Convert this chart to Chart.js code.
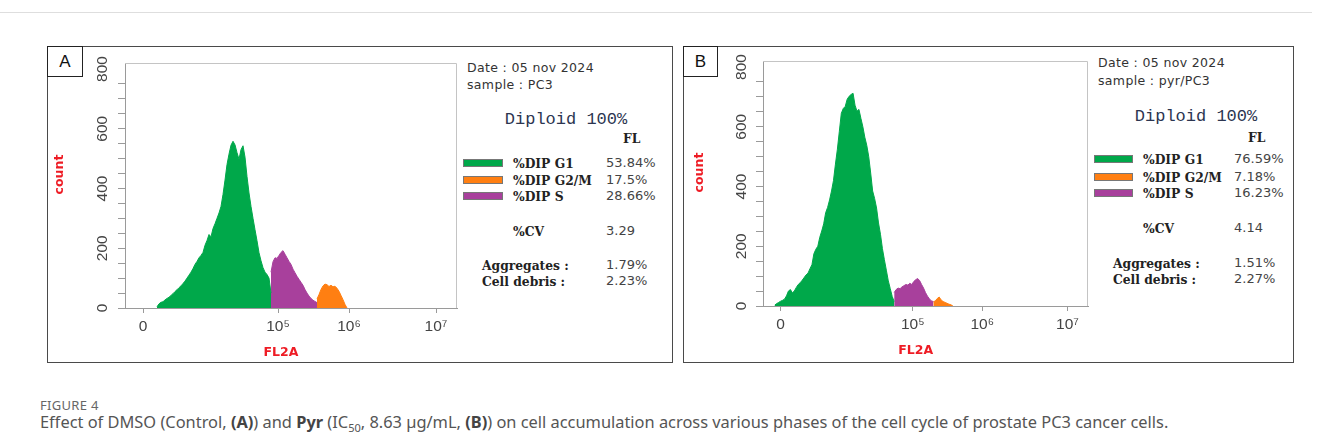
<!DOCTYPE html>
<html>
<head>
<meta charset="utf-8">
<script src="https://cdn.jsdelivr.net/npm/chart.js@4.4.1/dist/chart.umd.min.js"></script>
<style>
  body { margin: 0; width: 1319px; height: 448px; background: #fff; position: relative; overflow: hidden; font-family: "DejaVu Sans", sans-serif; }
  .abs { position: absolute; white-space: nowrap; line-height: 14px; }
  .panel { position: absolute; box-sizing: border-box; border: 1.5px solid #4a4a4a; }
  .tag { position: absolute; box-sizing: border-box; border: 1px solid #222; background: #fff; font: 17px "Liberation Sans", Arial, sans-serif; color: #111; text-align: center; line-height: 29px; }
  .plot { position: absolute; }
  .date { font-size: 12.5px; color: #333; letter-spacing: 0.35px; }
  .diploid { font: 17px "Liberation Mono", monospace; color: #2c3550; transform: translateX(-50%); }
  .lbl { font: bold 12.3px "DejaVu Serif", serif; color: #222; }
  .val { font-size: 13px; color: #444; }
  .sw { position: absolute; height: 8px; box-sizing: border-box; border: 1px solid #777; }
  #topline { position: absolute; left: 0; top: 12px; width: 1312px; border-top: 1px solid #dedede; }
  #figno { position: absolute; left: 40px; top: 396px; font: 13px "Noto Sans", sans-serif; color: #666; letter-spacing: 0.3px; }
  #caption { position: absolute; left: 40px; top: 412px; font: 16.4px "Noto Sans", sans-serif; color: #555; white-space: nowrap; line-height: 20px; }
  #caption b { color: #444; }
  #caption sub { font-size: 11px; line-height: 0; }
</style>
</head>
<body>
<div id="topline"></div>

<script>
// FL2A channel positions of the labelled ticks and their labels
const xTickChannels = [9, 76.5, 112, 155.5];
const xTickLabels = ['0', '10\u2075', '10\u2076', '10\u2077'];
const yTickLabels = [0, 200, 400, 600, 800];

// phase names and colours (legend order)
const phaseNames = ['%DIP G1', '%DIP G2/M', '%DIP S'];
const phaseColors = ['#00a84a', '#ff7f12', '#a8409c'];

// panel A (DMSO control) histogram counts per channel
const aG1Start = 16;
const aG1 = [4, 14, 19, 21, 27, 32, 36, 42, 48, 55, 61, 68, 74, 82, 90, 100, 110, 120, 132, 146,
             156, 168, 176, 186, 210, 226, 246, 238, 266, 282, 300, 318, 340, 380, 428, 480, 515, 545, 558, 546,
             520, 498, 530, 543, 505, 440, 385, 340, 300, 262, 225, 185, 158, 135, 120, 112, 100, 50];
const aSStart = 73;
const aS = [120, 155, 168, 166, 176, 186, 192, 180, 168, 156, 146, 130, 118, 106, 96, 86, 76, 62, 50, 40, 32, 26, 22, 18];
const aG2Start = 96;
const aG2 = [30, 45, 62, 74, 80, 78, 72, 76, 71, 73, 66, 56, 42, 28, 12, 0];

// panel B (Pyr) histogram counts per channel
const bG1Start = 6;
const bG1 = [3, 8, 12, 16, 19, 23, 34, 50, 55, 44, 50, 62, 72, 78, 86, 95, 104, 110, 125, 138,
             175, 190, 200, 230, 251, 275, 312, 330, 355, 385, 420, 475, 525, 585, 645, 661, 668, 692, 702, 708,
             712, 672, 652, 658, 628, 600, 565, 538, 500, 445, 385, 360, 328, 278, 240, 192, 155, 120, 84, 58,
             32, 15];
const bSStart = 67;
const bS = [45, 55, 60, 58, 64, 68, 72, 70, 76, 72, 82, 88, 92, 85, 72, 60, 45, 33, 24, 17, 15];
const bG2Start = 87;
const bG2 = [14, 17, 25, 30, 20, 15, 12, 9, 6, 4, 0];

// statistics shown beside each histogram
const sampleNames = ['PC3', 'pyr/PC3'];
const phasePctA = ['53.84%', '17.5%', '28.66%'];
const phasePctB = ['76.59%', '7.18%', '16.23%'];
const cvValues = ['3.29', '4.14'];
const aggregates = ['1.79%', '1.51%'];
const debris = ['2.23%', '2.27%'];

const panels = [
  { tag: 'A', box: [47, 46, 626, 317], tagBox: [36, 31],
    canvas: [48, 47, 414, 315], pad: { top: 16, right: 5 }, yW: 77, xH: 54,
    tickGap: 22, countGap: 65,
    g1: [aG1Start, aG1], s: [aSStart, aS], g2: [aG2Start, aG2], pct: phasePctA,
    txt: { date: [467, 68], sample: [467, 85], dip: [566, 117], fl: [623, 138],
           sw: [463, 40, [163, 180, 196]], lbl: 513, val: 606, cv: 231, agg: [482, 265, 281] } },
  { tag: 'B', box: [683, 46, 611, 317], tagBox: [35, 31],
    canvas: [684, 47, 409, 315], pad: { top: 14, right: 5 }, yW: 79, xH: 56,
    tickGap: 21, countGap: 63,
    g1: [bG1Start, bG1], s: [bSStart, bS], g2: [bG2Start, bG2], pct: phasePctB,
    txt: { date: [1098, 63], sample: [1098, 81], dip: [1196, 114], fl: [1248, 137],
           sw: [1094, 39, [159, 177, 193]], lbl: 1143, val: 1234, cv: 228, agg: [1113, 263, 279] } }
];

function addDiv(cls, x, yc, html, extra) {
  const d = document.createElement('div');
  d.className = 'abs ' + cls;
  d.style.left = x + 'px';
  d.style.top = (yc - 7) + 'px';
  d.innerHTML = html;
  if (extra) Object.assign(d.style, extra);
  document.body.appendChild(d);
  return d;
}

const decor = {
  id: 'decor',
  afterDatasetsDraw(chart, args, o) {
    const { ctx, chartArea: a } = chart;
    ctx.save();
    ctx.strokeStyle = '#c4c4c4';
    ctx.lineWidth = 1;
    ctx.beginPath();
    ctx.moveTo(a.left, a.top + 0.5);
    ctx.lineTo(a.right - 0.5, a.top + 0.5);
    ctx.lineTo(a.right - 0.5, a.bottom);
    ctx.stroke();
    ctx.restore();
  },
  afterDraw(chart, args, o) {
    const { ctx, chartArea: a, scales: { x, y } } = chart;
    ctx.save();
    ctx.textAlign = 'center';
    ctx.textBaseline = 'middle';
    ctx.fillStyle = '#444';
    ctx.font = '15.5px "Liberation Sans", Arial, sans-serif';
    yTickLabels.forEach(v => {
      ctx.save();
      ctx.translate(a.left - o.tickGap, y.getPixelForValue(v));
      ctx.rotate(-Math.PI / 2);
      ctx.fillText(String(v), 0, 0);
      ctx.restore();
    });
    ctx.fillStyle = '#ee1c25';
    ctx.font = 'bold 12.5px "DejaVu Sans", sans-serif';
    ctx.save();
    ctx.translate(a.left - o.countGap, (a.top + a.bottom) / 2 - 11);
    ctx.rotate(-Math.PI / 2);
    ctx.fillText('count', 0, 0);
    ctx.restore();
    ctx.fillText('FL2A', x.getPixelForValue(78), a.bottom + 45);
    ctx.restore();
  }
};

function series(start, vals, color) {
  return {
    data: vals.map((v, i) => ({ x: start + i, y: v })),
    borderColor: color, backgroundColor: color, borderWidth: 1,
    fill: 'origin', pointRadius: 0, tension: 0
  };
}

panels.forEach((p, k) => {
  const box = document.createElement('div');
  box.className = 'panel';
  Object.assign(box.style, { left: p.box[0] + 'px', top: p.box[1] + 'px', width: p.box[2] + 'px', height: p.box[3] + 'px' });
  document.body.appendChild(box);

  const wrap = document.createElement('div');
  wrap.className = 'plot';
  Object.assign(wrap.style, { left: p.canvas[0] + 'px', top: p.canvas[1] + 'px', width: p.canvas[2] + 'px', height: p.canvas[3] + 'px' });
  const cv = document.createElement('canvas');
  wrap.appendChild(cv);
  document.body.appendChild(wrap);

  const tag = document.createElement('div');
  tag.className = 'tag';
  Object.assign(tag.style, { left: p.box[0] + 'px', top: p.box[1] + 'px', width: p.tagBox[0] + 'px', height: p.tagBox[1] + 'px' });
  tag.textContent = p.tag;
  document.body.appendChild(tag);

  new Chart(cv, {
    type: 'line',
    data: {
      datasets: [
        series(p.g1[0], p.g1[1], phaseColors[0]),
        series(p.s[0], p.s[1], phaseColors[2]),
        series(p.g2[0], p.g2[1], phaseColors[1])
      ]
    },
    options: {
      responsive: true,
      maintainAspectRatio: false,
      animation: false,
      devicePixelRatio: 1,
      layout: { padding: { top: p.pad.top, right: p.pad.right, left: 0, bottom: 0 } },
      plugins: { legend: { display: false }, tooltip: { enabled: false }, decor: { tickGap: p.tickGap, countGap: p.countGap } },
      scales: {
        x: {
          type: 'linear', min: 0, max: 166,
          afterBuildTicks: s => { s.ticks = xTickChannels.map(v => ({ value: v })); },
          afterFit: s => { s.height = p.xH; },
          ticks: {
            autoSkip: false, maxRotation: 0, minRotation: 0, padding: 4,
            color: '#444', font: { family: '"Liberation Sans", Arial, sans-serif', size: 15.5 },
            callback: (v, i) => xTickLabels[i]
          },
          grid: { drawOnChartArea: false, drawTicks: true, tickLength: 5, color: '#9a9a9a' },
          border: { display: true, color: '#9a9a9a', width: 1 }
        },
        y: {
          type: 'linear', min: 0, max: 820,
          afterBuildTicks: s => { s.ticks = s.ticks.filter(t => t.value % 50 === 0); },
          afterFit: s => { s.width = p.yW; },
          ticks: { stepSize: 50, display: false },
          grid: { drawOnChartArea: false, drawTicks: true, tickLength: 7, color: '#9a9a9a' },
          border: { display: true, color: '#9a9a9a', width: 1 }
        }
      }
    },
    plugins: [decor]
  });

  const t = p.txt;
  addDiv('date', t.date[0], t.date[1], 'Date : 05 nov 2024');
  addDiv('date', t.sample[0], t.sample[1], 'sample : ' + sampleNames[k]);
  addDiv('diploid', t.dip[0], t.dip[1], 'Diploid 100%');
  addDiv('lbl', t.fl[0], t.fl[1], 'FL');
  phaseNames.forEach((name, i) => {
    const yc = t.sw[2][i];
    const sw = document.createElement('div');
    sw.className = 'sw';
    Object.assign(sw.style, { left: t.sw[0] + 'px', top: (yc - 4) + 'px', width: t.sw[1] + 'px', background: phaseColors[i] });
    document.body.appendChild(sw);
    addDiv('lbl', t.lbl, yc, name);
    addDiv('val', t.val, yc, p.pct[i]);
  });
  addDiv('lbl', t.lbl, t.cv, '%CV');
  addDiv('val', t.val, t.cv, cvValues[k]);
  addDiv('lbl', t.agg[0], t.agg[1], 'Aggregates :');
  addDiv('val', t.val, t.agg[1], aggregates[k]);
  addDiv('lbl', t.agg[0], t.agg[2], 'Cell debris :');
  addDiv('val', t.val, t.agg[2], debris[k]);
});
</script>

<div id="figno">FIGURE 4</div>
<div id="caption">Effect of DMSO (Control, <b>(A)</b>) and <b>Pyr</b> (IC<sub>50</sub>, 8.63 µg/mL, <b>(B)</b>) on cell accumulation across various phases of the cell cycle of prostate PC3 cancer cells.</div>
</body>
</html>
